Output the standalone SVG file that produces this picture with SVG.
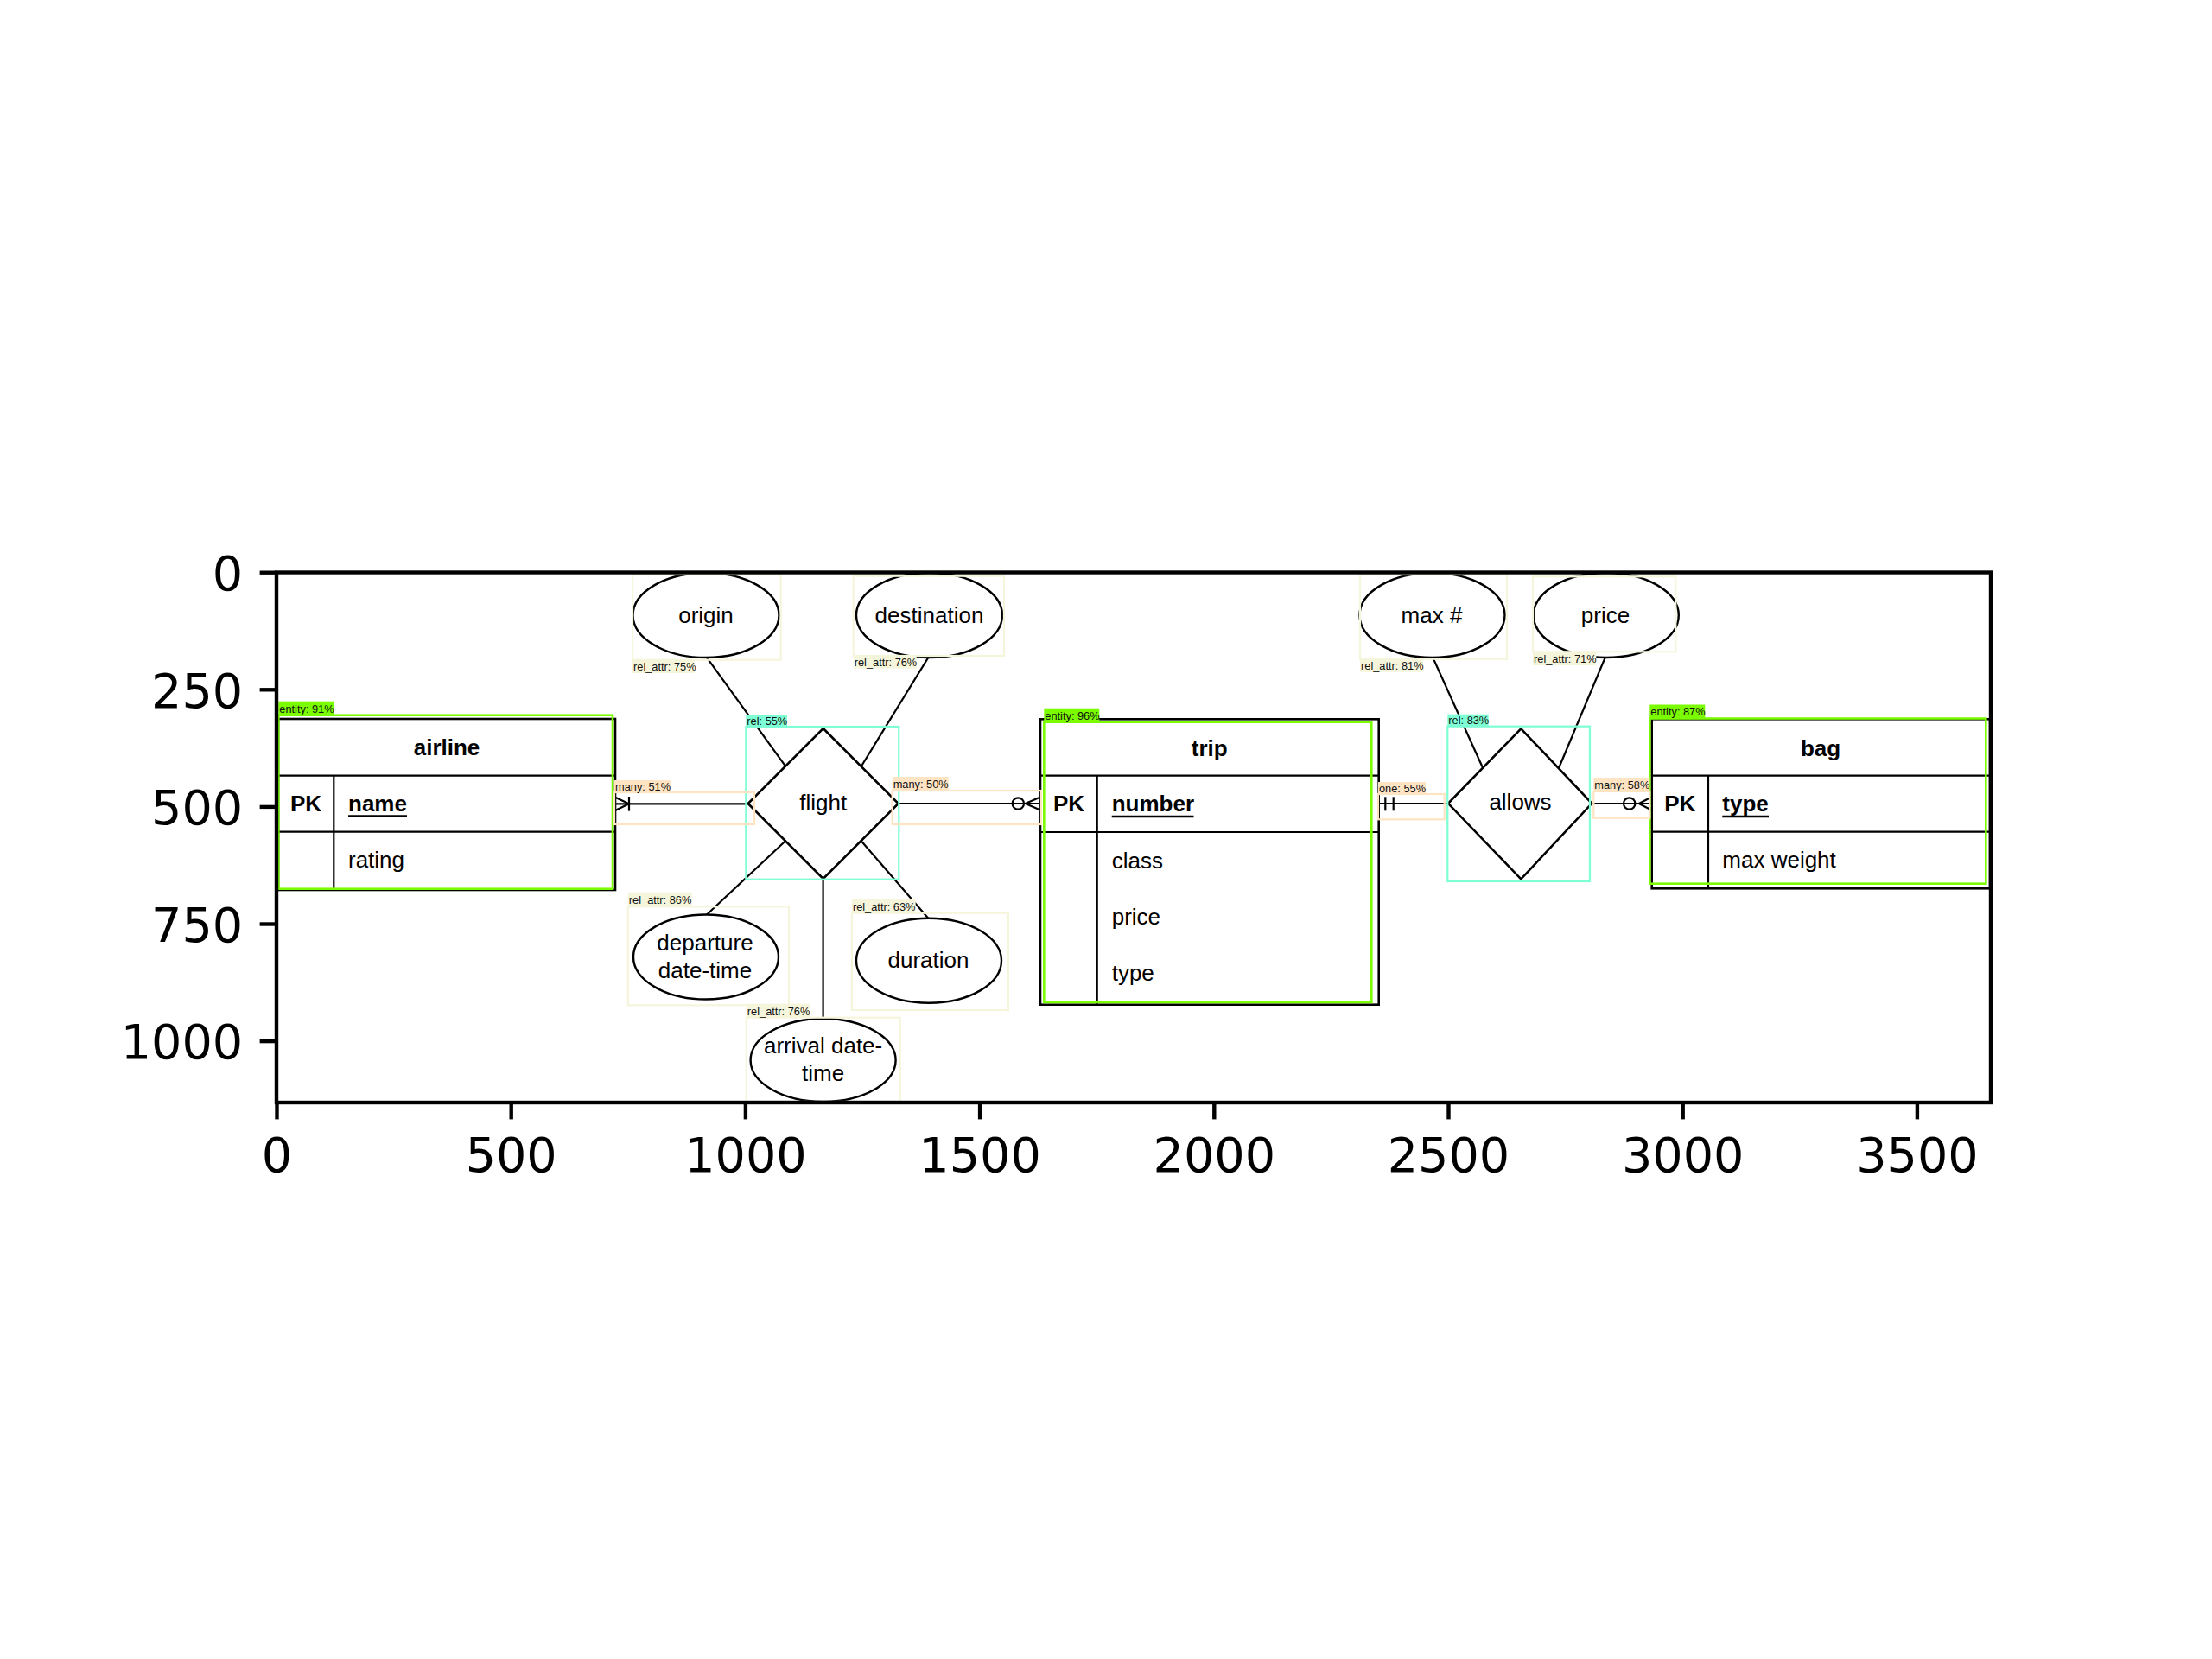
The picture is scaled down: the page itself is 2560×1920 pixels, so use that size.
<svg xmlns="http://www.w3.org/2000/svg" width="2560" height="1920" viewBox="0 0 2560 1920">
<style>
.ln{stroke:#000;stroke-width:2.2;fill:none}
.box{stroke:#000;stroke-width:2.6;fill:#fff}
.ell{stroke:#000;stroke-width:2.4;fill:#fff}
.t{font-family:"Liberation Sans",Arial,sans-serif;font-size:26px;fill:#000}
.b{font-weight:bold}
.m{text-anchor:middle}
.lbl{font-family:"Liberation Sans",Arial,sans-serif;font-size:12.8px;fill:#111}
.ent{fill:none;stroke:#7CFC00;stroke-width:2.6}
.entb{fill:#7CFC00}
.rel{fill:none;stroke:#7FFFD4;stroke-width:2.2}
.relb{fill:#7FFFD4}
.car{fill:none;stroke:#FFE4C4;stroke-width:2.2}
.carb{fill:#FFE4C4}
.att{fill:none;stroke:#F5F5DC;stroke-width:2.2}
.attb{fill:#F5F5DC}
.tk{font-family:"DejaVu Sans",sans-serif;font-size:55.6px;fill:#000}
.sp{stroke:#000;stroke-width:4.4;fill:none}
</style>
<rect width="2560" height="1920" fill="#fff"/>

<g id="connectors">
  <line class="ln" x1="712" y1="930.3" x2="865.7" y2="930.3"/>
  <polyline class="ln" points="712,922.7 728,930.3 712,937.9"/>
  <line class="ln" x1="728" y1="922" x2="728" y2="938.6"/>
  <line class="ln" x1="1039.7" y1="930" x2="1204" y2="930"/>
  <polyline class="ln" points="1204,922.5 1186.7,930 1204,937.5"/>
  <circle class="ln" cx="1178.3" cy="930" r="6.7" fill="#fff"/>
  <line class="ln" x1="1595.7" y1="930" x2="1676" y2="930"/>
  <line class="ln" x1="1603.3" y1="922.3" x2="1603.3" y2="938.3"/>
  <line class="ln" x1="1612.7" y1="922.3" x2="1612.7" y2="938.3"/>
  <line class="ln" x1="1842.3" y1="930" x2="1911.7" y2="930"/>
  <polyline class="ln" points="1911.7,922.3 1896.7,930 1911.7,937.7"/>
  <circle class="ln" cx="1885.7" cy="930" r="6.7" fill="#fff"/>
  <line class="ln" x1="818" y1="761" x2="909" y2="886.7"/>
  <line class="ln" x1="1074.3" y1="761" x2="996.7" y2="887"/>
  <line class="ln" x1="909" y1="973.3" x2="818" y2="1058.5"/>
  <line class="ln" x1="996.7" y1="973.3" x2="1074.3" y2="1062.7"/>
  <line class="ln" x1="952.6" y1="1017" x2="952.6" y2="1179"/>
  <line class="ln" x1="1658.3" y1="761" x2="1716" y2="888.5"/>
  <line class="ln" x1="1857.7" y1="761" x2="1804" y2="889"/>
</g>

<g id="airline">
  <rect class="box" x="322" y="832" width="390" height="198"/>
  <line class="ln" x1="322" y1="897.7" x2="712" y2="897.7"/>
  <line class="ln" x1="322" y1="962.7" x2="712" y2="962.7"/>
  <line class="ln" x1="386.3" y1="897.7" x2="386.3" y2="1030"/>
  <text class="t b m" x="517" y="874">airline</text>
  <text class="t b m" x="354" y="939">PK</text>
  <text class="t b" x="403" y="939">name</text>
  <line x1="403" y1="944.5" x2="471" y2="944.5" stroke="#000" stroke-width="2.6"/>
  <text class="t" x="403" y="1003.5">rating</text>
</g>

<g id="flight">
  <polygon class="box" points="952.7,843 1039.7,930 952.7,1017 865.7,930"/>
  <text class="t m" x="952.7" y="938">flight</text>
</g>

<g id="origin">
  <ellipse class="ell" cx="817" cy="712" rx="84.5" ry="49"/>
  <text class="t m" x="817" y="721">origin</text>
</g>
<g id="destination">
  <ellipse class="ell" cx="1075.5" cy="712" rx="84.5" ry="49"/>
  <text class="t m" x="1075.5" y="721">destination</text>
</g>
<g id="departure">
  <ellipse class="ell" cx="817" cy="1107.5" rx="84" ry="49"/>
  <text class="t m" x="816" y="1100">departure</text>
  <text class="t m" x="816" y="1132.3">date-time</text>
</g>
<g id="duration">
  <ellipse class="ell" cx="1075" cy="1111.7" rx="84" ry="49"/>
  <text class="t m" x="1074.5" y="1120">duration</text>
</g>
<g id="arrival">
  <ellipse class="ell" cx="952.6" cy="1227" rx="84" ry="48"/>
  <text class="t m" x="952.6" y="1219.3">arrival date-</text>
  <text class="t m" x="952.6" y="1251">time</text>
</g>

<g id="trip">
  <rect class="box" x="1204" y="832.3" width="391.7" height="330.4"/>
  <line class="ln" x1="1204" y1="897.7" x2="1595.7" y2="897.7"/>
  <line class="ln" x1="1204" y1="963" x2="1595.7" y2="963"/>
  <line class="ln" x1="1269.7" y1="897.7" x2="1269.7" y2="1162.7"/>
  <text class="t b m" x="1399.8" y="875">trip</text>
  <text class="t b m" x="1237" y="939.3">PK</text>
  <text class="t b" x="1286.7" y="939.3">number</text>
  <line x1="1286.7" y1="945" x2="1381.5" y2="945" stroke="#000" stroke-width="2.6"/>
  <text class="t" x="1286.7" y="1005">class</text>
  <text class="t" x="1286.7" y="1070">price</text>
  <text class="t" x="1286.7" y="1135">type</text>
</g>

<g id="allows">
  <polygon class="box" points="1760.3,843.3 1842.3,929.8 1760.3,1017.3 1676,929.8"/>
  <text class="t m" x="1759.5" y="937">allows</text>
</g>
<g id="maxnum">
  <ellipse class="ell" cx="1657.5" cy="712" rx="84" ry="49"/>
  <text class="t m" x="1657" y="721">max #</text>
</g>
<g id="price">
  <ellipse class="ell" cx="1858.8" cy="712" rx="84" ry="49"/>
  <text class="t m" x="1858" y="721">price</text>
</g>

<g id="bag">
  <rect class="box" x="1911.7" y="832.3" width="391.3" height="196"/>
  <line class="ln" x1="1911.7" y1="897.7" x2="2303" y2="897.7"/>
  <line class="ln" x1="1911.7" y1="962.7" x2="2303" y2="962.7"/>
  <line class="ln" x1="1977" y1="897.7" x2="1977" y2="1028.3"/>
  <text class="t b m" x="2107" y="875">bag</text>
  <text class="t b m" x="1944.3" y="939">PK</text>
  <text class="t b" x="1993.3" y="939">type</text>
  <line x1="1993.3" y1="945" x2="2047" y2="945" stroke="#000" stroke-width="2.6"/>
  <text class="t" x="1993.3" y="1004">max weight</text>
</g>

<g id="annotations">
  <rect class="ent" x="322.3" y="827.7" width="386.7" height="201"/>
  <rect class="entb" x="322.3" y="811.7" width="64" height="16"/>
  <text class="lbl" x="323.3" y="824.5">entity: 91%</text>

  <rect class="ent" x="1208.3" y="835.7" width="379" height="324.3"/>
  <rect class="entb" x="1208.3" y="819.7" width="64" height="16"/>
  <text class="lbl" x="1209.3" y="832.5">entity: 96%</text>

  <rect class="ent" x="1909.3" y="831.5" width="389" height="191.2"/>
  <rect class="entb" x="1909.3" y="815.5" width="64" height="16"/>
  <text class="lbl" x="1910.3" y="828.3">entity: 87%</text>

  <rect class="rel" x="863.3" y="841" width="177" height="176.7"/>
  <rect class="relb" x="863.3" y="827" width="47.7" height="14"/>
  <text class="lbl" x="864.3" y="838.5">rel: 55%</text>

  <rect class="rel" x="1675.3" y="840.7" width="164.7" height="179.3"/>
  <rect class="relb" x="1675.3" y="826.7" width="47.4" height="14"/>
  <text class="lbl" x="1676.3" y="838.2">rel: 83%</text>

  <rect class="car" x="711" y="917" width="162" height="37"/>
  <rect class="carb" x="711" y="903" width="65" height="14"/>
  <text class="lbl" x="712" y="914.5">many: 51%</text>

  <rect class="car" x="1032.7" y="915" width="172.3" height="39"/>
  <rect class="carb" x="1032.7" y="899" width="65" height="16"/>
  <text class="lbl" x="1033.7" y="911.8">many: 50%</text>

  <rect class="car" x="1595" y="919" width="76.7" height="29.3"/>
  <rect class="carb" x="1595" y="905" width="55" height="14"/>
  <text class="lbl" x="1596" y="916.5">one: 55%</text>

  <rect class="car" x="1844.3" y="916" width="65" height="30.7"/>
  <rect class="carb" x="1844.3" y="900" width="65" height="16"/>
  <text class="lbl" x="1845.3" y="912.8">many: 58%</text>

  <rect class="att" x="732" y="665" width="171.7" height="98.7"/>
  <rect class="attb" x="732" y="763.7" width="72" height="15.3"/>
  <text class="lbl" x="733" y="776">rel_attr: 75%</text>

  <rect class="att" x="987.7" y="666.7" width="174.3" height="92.3"/>
  <rect class="attb" x="987.7" y="759" width="73" height="14.7"/>
  <text class="lbl" x="988.7" y="771">rel_attr: 76%</text>

  <rect class="att" x="726.8" y="1049.3" width="186.2" height="114"/>
  <rect class="attb" x="726.8" y="1032.7" width="73.8" height="16.6"/>
  <text class="lbl" x="727.8" y="1045.8">rel_attr: 86%</text>

  <rect class="att" x="985.9" y="1056.7" width="181" height="112.3"/>
  <rect class="attb" x="985.9" y="1041" width="73.8" height="15.7"/>
  <text class="lbl" x="986.9" y="1053.5">rel_attr: 63%</text>

  <rect class="att" x="863.8" y="1177.7" width="177.9" height="97.3"/>
  <rect class="attb" x="863.8" y="1161.7" width="74.2" height="16"/>
  <text class="lbl" x="864.8" y="1174.5">rel_attr: 76%</text>

  <rect class="att" x="1574" y="665" width="170" height="97.7"/>
  <rect class="attb" x="1574" y="762.7" width="73.3" height="15"/>
  <text class="lbl" x="1575" y="774.8">rel_attr: 81%</text>

  <rect class="att" x="1774" y="667.3" width="165.3" height="87"/>
  <rect class="attb" x="1774" y="754.3" width="73.3" height="15.7"/>
  <text class="lbl" x="1775" y="766.8">rel_attr: 71%</text>
</g>

<g id="axes">
  <rect class="sp" x="320" y="662.5" width="1984" height="613.5"/>
  <g stroke="#000" stroke-width="4.4">
    <line x1="320.5" y1="1276" x2="320.5" y2="1295.4"/>
    <line x1="591.7" y1="1276" x2="591.7" y2="1295.4"/>
    <line x1="862.9" y1="1276" x2="862.9" y2="1295.4"/>
    <line x1="1134.1" y1="1276" x2="1134.1" y2="1295.4"/>
    <line x1="1405.3" y1="1276" x2="1405.3" y2="1295.4"/>
    <line x1="1676.5" y1="1276" x2="1676.5" y2="1295.4"/>
    <line x1="1947.7" y1="1276" x2="1947.7" y2="1295.4"/>
    <line x1="2218.9" y1="1276" x2="2218.9" y2="1295.4"/>
    <line x1="320" y1="662.7" x2="300.6" y2="662.7"/>
    <line x1="320" y1="798.3" x2="300.6" y2="798.3"/>
    <line x1="320" y1="933.9" x2="300.6" y2="933.9"/>
    <line x1="320" y1="1069.5" x2="300.6" y2="1069.5"/>
    <line x1="320" y1="1205.1" x2="300.6" y2="1205.1"/>
  </g>
  <g class="tk" text-anchor="middle">
    <text x="320.5" y="1355.5">0</text>
    <text x="591.7" y="1355.5">500</text>
    <text x="862.9" y="1355.5">1000</text>
    <text x="1134.1" y="1355.5">1500</text>
    <text x="1405.3" y="1355.5">2000</text>
    <text x="1676.5" y="1355.5">2500</text>
    <text x="1947.7" y="1355.5">3000</text>
    <text x="2218.9" y="1355.5">3500</text>
  </g>
  <g class="tk" text-anchor="end">
    <text x="281.2" y="682.9">0</text>
    <text x="281.2" y="818.5">250</text>
    <text x="281.2" y="954.1">500</text>
    <text x="281.2" y="1089.7">750</text>
    <text x="281.2" y="1225.3">1000</text>
  </g>
</g>
</svg>
